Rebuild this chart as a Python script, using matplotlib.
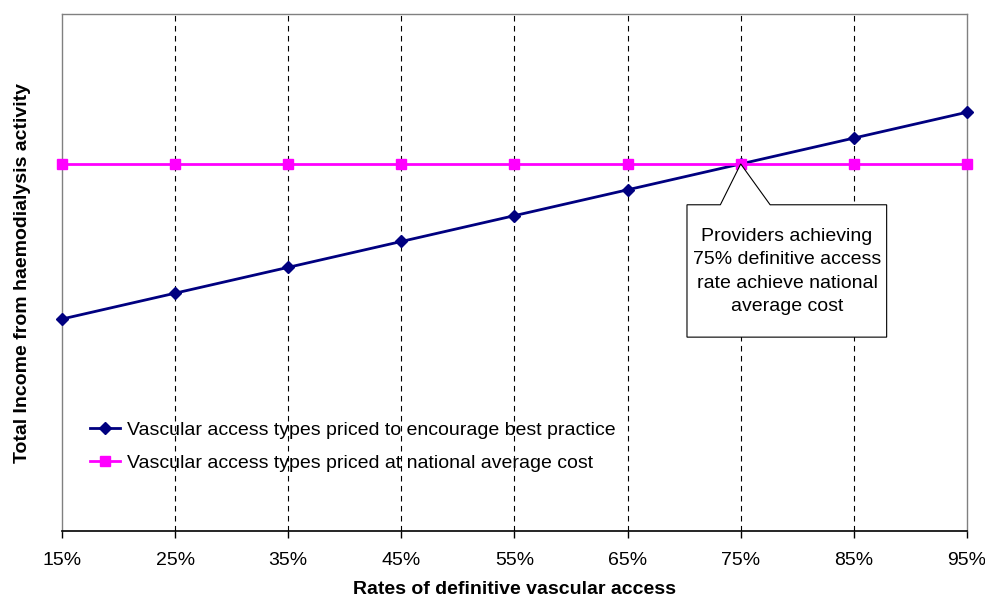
import numpy as np
import matplotlib.pyplot as plt
from matplotlib.patches import Polygon

plt.rcParams['font.family'] = ['Liberation Sans', 'DejaVu Sans']

# data (arbitrary income units, no y scale shown)
rates = [15, 25, 35, 45, 55, 65, 75, 85, 95]
rate_labels = ['15%', '25%', '35%', '45%', '55%', '65%', '75%', '85%', '95%']
best_practice = [41, 46, 51, 56, 61, 66, 71, 76, 81]
national_avg = [71, 71, 71, 71, 71, 71, 71, 71, 71]

fig = plt.figure(figsize=(9.85, 5.98), dpi=100)
ax = fig.add_axes([0.0629, 0.112, 0.9188, 0.8646])

# dashed verticals
for r in rates[1:-1]:
    ax.axvline(r, color='black', linestyle=(0, (5, 4)), linewidth=0.8, zorder=1)

ax.plot(rates, best_practice, color='#000080', marker='D', markersize=6, linewidth=2,
        label='Vascular access types priced to encourage best practice', zorder=3, clip_on=False)
ax.plot(rates, national_avg, color='#FF00FF', marker='s', markersize=7, linewidth=2,
        label='Vascular access types priced at national average cost', zorder=3, clip_on=False)

ax.set_xlim(15, 95)
ax.set_ylim(0, 100)
ax.set_xticks(rates)
ax.set_xticklabels(rate_labels, fontsize=14)
ax.set_yticks([])
ax.tick_params(axis='x', direction='out', length=5, width=1, pad=10)

for s in ['left', 'top', 'right']:
    ax.spines[s].set_color('#808080')
    ax.spines[s].set_linewidth(1)
ax.spines['bottom'].set_color('black')
ax.spines['bottom'].set_linewidth(1.2)

ax.set_xlabel('Rates of definitive vascular access', fontsize=14, fontweight='bold', labelpad=9)
ax.set_ylabel('Total Income from haemodialysis activity', fontsize=14, fontweight='bold', labelpad=22)

# callout box with pointer
tip_x, tip_y = rates[6], national_avg[6]
callout = Polygon([(70.25, 63.1), (73.2, 63.1), (tip_x, tip_y), (77.6, 63.1), (87.9, 63.1),
                   (87.9, 37.5), (70.25, 37.5)], closed=True, facecolor='white',
                  edgecolor='black', linewidth=0.8, zorder=4)
ax.add_patch(callout)
ax.text(79.1, 50.2, 'Providers achieving\n75% definitive access\nrate achieve national\naverage cost',
        ha='center', va='center', fontsize=14, linespacing=1.5, zorder=5)

leg = ax.legend(loc='lower left', bbox_to_anchor=(0.0117, 0.08), frameon=False, fontsize=14,
                handlelength=1.55, handletextpad=0.36, labelspacing=0.8)

fig.savefig('out.png', dpi=100)
